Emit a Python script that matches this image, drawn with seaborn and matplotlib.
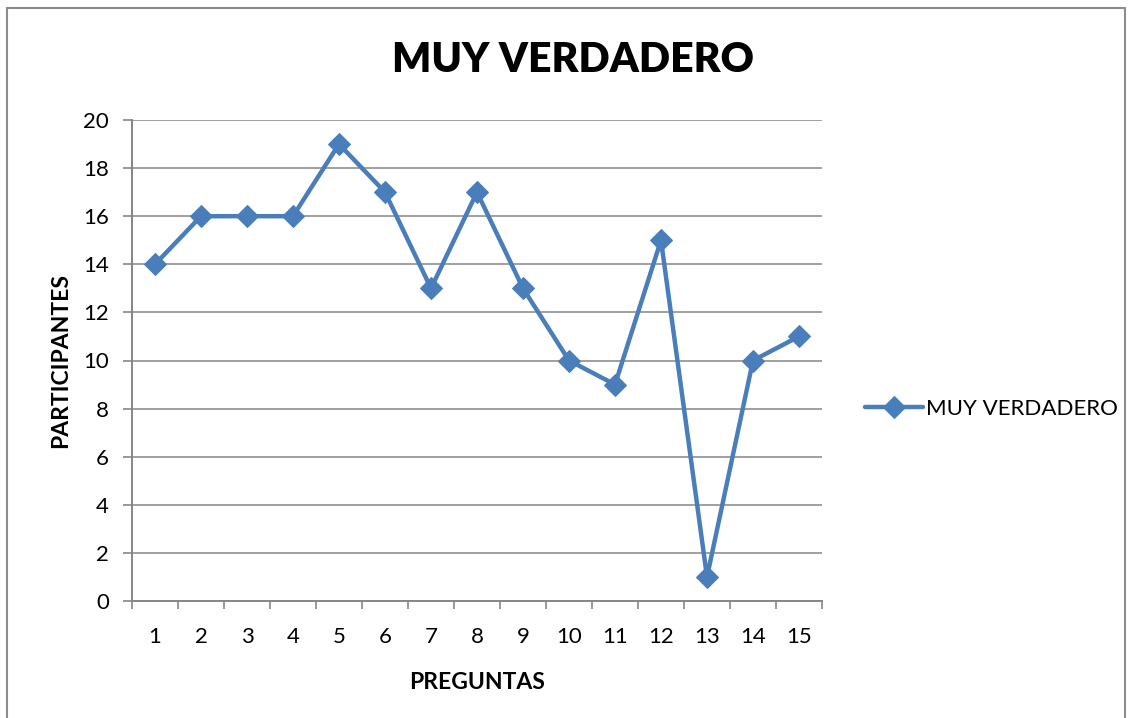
import matplotlib
matplotlib.use("Agg")
import matplotlib.pyplot as plt
import seaborn as sns
import pandas as pd
from matplotlib.patches import Rectangle

# ── Data ─────────────────────────────────────────────────
preguntas = list(range(1, 16))
participantes = [14, 16, 16, 16, 19, 17, 13, 17, 13, 10, 9, 15, 1, 10, 11]
serie = "MUY VERDADERO"
y_ticks = list(range(0, 21, 2))

df = pd.DataFrame({"pregunta": preguntas, "valor": participantes, "serie": serie})

# ── Style ────────────────────────────────────────────────
sns.set_theme(style="white")
plt.rcParams["font.family"] = ["Lato", "DejaVu Sans"]
plt.rcParams["text.color"] = "black"
plt.rcParams["axes.labelcolor"] = "black"
plt.rcParams["xtick.color"] = "black"
plt.rcParams["ytick.color"] = "black"
BLUE = "#4A7EBB"
GRID = "#868686"

fig = plt.figure(figsize=(11.34, 7.18), dpi=100)
ax = fig.add_axes([132 / 1134, 1 - 601 / 718, 690 / 1134, 481 / 718])

sns.lineplot(data=df, x="pregunta", y="valor", hue="serie", palette=[BLUE],
             marker="D", markersize=11, markeredgecolor=BLUE, linewidth=3.2,
             ax=ax)

ax.set_xlim(0.5, 15.5)
ax.set_ylim(0, 20)
ax.set_yticks(y_ticks)
ax.set_xticks(preguntas)
ax.set_xticks([p + 0.5 for p in range(0, 16)], minor=True)
ax.tick_params(axis="x", which="major", length=0, pad=19, labelsize=16)
ax.tick_params(axis="x", which="minor", length=6, width=1.2, color=GRID,
               direction="out", bottom=True)
ax.tick_params(axis="y", length=6.5, width=1.2, color=GRID, left=True,
               labelsize=16, pad=10)
ax.yaxis.grid(True, color=GRID, linewidth=1.1)
ax.set_axisbelow(True)
for side in ["top", "right"]:
    ax.spines[side].set_visible(False)
for side in ["left", "bottom"]:
    ax.spines[side].set_color(GRID)
    ax.spines[side].set_linewidth(1.4)

ax.set_xlabel("PREGUNTAS", fontsize=16.5, fontweight="bold", labelpad=18)
ax.set_ylabel("PARTICIPANTES", fontsize=16.5, fontweight="bold", labelpad=9)

fig.text(573 / 1134, 1 - 60 / 718, "MUY VERDADERO", ha="center", va="center",
         fontsize=29.5, fontweight="heavy")

leg = ax.legend(loc="center left", bbox_to_anchor=(1.033, 0.40), frameon=False,
                fontsize=16, handlelength=2.6, handletextpad=0.15)

# chart border
fig.patches.append(Rectangle((7 / 1134, -0.01), 1118 / 1134, 1 - 8 / 718 + 0.01,
                             transform=fig.transFigure, fill=False,
                             edgecolor="#8C8C8C", linewidth=1.5))

fig.savefig("out.png", dpi=100)
